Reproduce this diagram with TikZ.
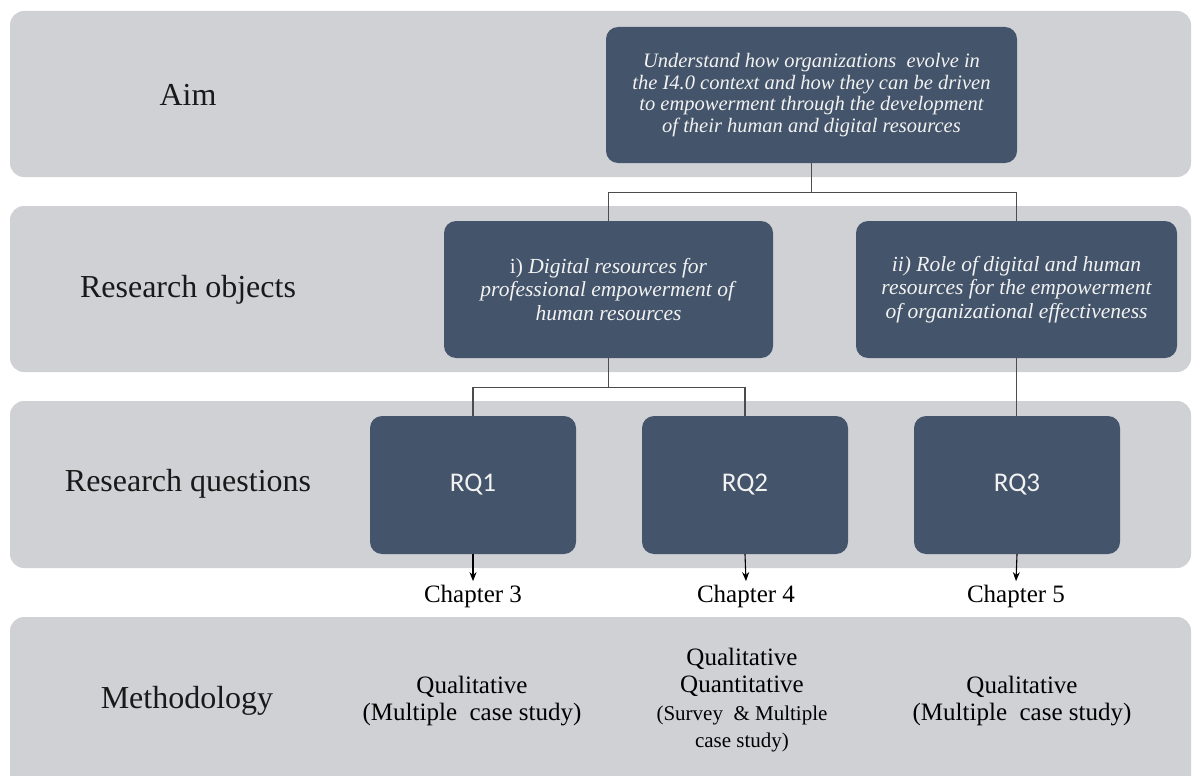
\documentclass[tikz,border=0pt]{standalone}
\usepackage{fontspec}
\setmainfont{Liberation Serif}
\newfontfamily\rqfont{Carlito}
\usetikzlibrary{arrows.meta}
\definecolor{bandgray}{HTML}{D0D1D5}
\definecolor{slate}{HTML}{44546A}
\definecolor{paletext}{HTML}{F2F2F2}
\newcommand{\fs}[2]{\fontsize{#1}{#2}\selectfont}
\tikzset{>={Stealth[length=9pt,width=7pt]},
  band/.style={fill=bandgray,rounded corners=14pt},
  dark/.style={fill=slate,rounded corners=12pt,text=paletext,align=center,inner sep=0pt},
  rowlbl/.style={font=\fs{32}{36},text=black!90},
  rqbox/.style={dark,minimum width=206pt,minimum height=138pt,font=\rqfont\fs{27}{30}},
  link/.style={line width=1.1pt,draw=black!70},
  flow/.style={line width=1.1pt,->},
  chap/.style={font=\fs{25}{28}},
  meth/.style={align=center,font=\fs{25}{27}}}

\begin{document}
\begin{tikzpicture}[x=1pt,y=-1pt]
\useasboundingbox (0,0) rectangle (1192,776);
\clip (0,0) rectangle (1192,776);
\fill[white] (0,0) rectangle (1192,776);
% rows
\foreach \t/\b in {11/177,206/372,401/568,617/800}{\fill[band] (10,\t) rectangle (1191,\b);}
\node[rowlbl] (aimlbl) at (188,95) {Aim};
\node[rowlbl] (objlbl) at (188,290) {Research objects};
\node[rowlbl] (rqlbl) at (188,484) {Research questions};
\node[rowlbl] (methlbl) at (187,701) {Methodology};
% boxes
\node[dark,minimum width=411pt,minimum height=136pt,font=\itshape\fs{20.5}{21.8}] (aim) at (811.5,95)
  {Understand how organizations\ \ evolve in\\the I4.0 context and how they can be driven\\to empowerment through the development\\of their human and digital resources};
\node[dark,minimum width=329pt,minimum height=137pt,font=\fs{21.5}{23.5}] (ro1) at (608.5,289.5)
  {i) \textit{Digital resources for}\\\textit{professional empowerment of}\\\textit{human resources}};
\node[dark,minimum width=321pt,minimum height=137pt,font=\itshape\fs{21.5}{23.5}] (ro2) at (1016.5,289.5)
  {ii) Role of digital and human\\resources for the empowerment\\of organizational effectiveness};
\node[rqbox] (rq1) at (473,485) {RQ1};
\node[rqbox] (rq2) at (745,485) {RQ2};
\node[rqbox] (rq3) at (1017,485) {RQ3};
% tree
\draw[link] (aim.south) -- ++(0,29) -| (ro1.north);
\draw[link] (aim.south) -- ++(0,29) -| (ro2.north);
\draw[link] (ro1.south) -- ++(0,29) -| (rq1.north);
\draw[link] (ro1.south) -- ++(0,29) -| (rq2.north);
\draw[link] (ro2.south) -- (ro2.south |- rq3.north);
% chapters
\node[chap] (ch3) at (473,596) {Chapter 3};
\node[chap] (ch4) at (746,596) {Chapter 4};
\node[chap] (ch5) at (1016,596) {Chapter 5};
\draw[flow] (rq1.south) -- (ch3.north);
\draw[flow] (rq2.south) -- (ch4.north);
\draw[flow] (rq3.south) -- (ch5.north);
% methods
\node[meth] (m1) at (472,701) {Qualitative\\(Multiple~ case study)};
\node[meth] (m2) at (742,700) {Qualitative\\Quantitative\\[1pt]\fs{21}{24}(Survey~ \& Multiple\\\fs{21}{24}case study)};
\node[meth] (m3) at (1022,701) {Qualitative\\(Multiple~ case study)};
\end{tikzpicture}
\end{document}
